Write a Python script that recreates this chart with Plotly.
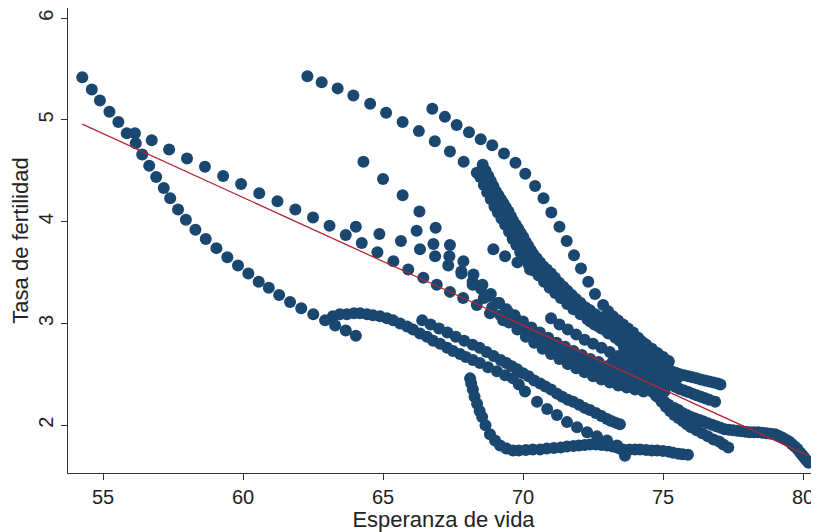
import plotly.graph_objects as go

# ---- trajectories (life expectancy, fertility) ----
t1_x = [54.26,54.60,54.89,55.23,55.55,55.85,56.17,56.40,56.65,56.90,57.17,57.40,57.68,57.96,58.30,58.67,59.05,59.44,59.82,60.19,60.56,60.92,61.29,61.68,62.08,62.51,62.93,63.29,63.67,64.03]
t1_y = [5.42,5.30,5.19,5.08,4.98,4.87,4.77,4.66,4.55,4.44,4.33,4.23,4.12,4.02,3.92,3.83,3.74,3.65,3.57,3.49,3.41,3.35,3.28,3.21,3.15,3.09,3.03,2.98,2.93,2.88]

t2_x = [56.14,56.74,57.36,58.00,58.64,59.29,59.93,60.58,61.23,61.87,62.50,63.09,63.67,64.24,64.80,65.37,65.90,66.44,66.92,67.39,67.86,68.35,68.82,69.29,69.79,70.25,70.71,71.21,71.68,72.14,72.64,73.21,73.71,73.9,74.1,74.3,74.45,74.6,74.75,74.9,75.05,75.2,75.4,75.55,75.7,75.85,76.0,76.15,76.3,76.45,76.6,76.75,76.9,77.05,77.2,77.35,77.5,77.65,77.8,77.95,78.1,78.25,78.4,78.55,78.7,78.85,79.0,79.12,79.25,79.37,79.5,79.6,79.7,79.8,79.9,79.98,80.05,80.12,80.2]
t2_y = [4.87,4.80,4.71,4.62,4.54,4.45,4.37,4.28,4.20,4.12,4.04,3.96,3.87,3.79,3.70,3.61,3.53,3.45,3.38,3.31,3.25,3.18,3.10,3.03,2.98,2.91,2.85,2.78,2.71,2.66,2.61,2.55,2.51,2.48,2.44,2.40,2.36,2.33,2.29,2.26,2.23,2.20,2.17,2.15,2.12,2.10,2.08,2.065,2.05,2.035,2.02,2.005,1.99,1.975,1.96,1.955,1.95,1.945,1.94,1.935,1.93,1.93,1.93,1.925,1.92,1.915,1.91,1.895,1.88,1.86,1.84,1.815,1.79,1.765,1.73,1.705,1.68,1.655,1.63]

t3_x = [62.30,62.81,63.38,63.94,64.54,65.11,65.70,66.28,66.85,67.39,67.88,68.35,68.47,68.6,68.72,68.85,68.98,69.1,69.23,69.36,69.5,69.63,69.76,69.9,70.04,70.2,70.38,70.56,70.75,70.95,71.15,71.35,71.58,71.8,72.05,72.3,72.55,72.8,73.05,73.3,73.55,73.8,74.05,74.3,74.55,74.8,75.05,75.3,75.45,75.6,75.75,75.9,76.05,76.2,76.35,76.5,76.65,76.8,76.95,77.05]
t3_y = [5.43,5.37,5.31,5.24,5.16,5.07,4.98,4.89,4.79,4.69,4.59,4.48,4.44,4.36,4.29,4.22,4.15,4.09,4.03,3.97,3.90,3.83,3.77,3.70,3.64,3.58,3.52,3.47,3.41,3.35,3.30,3.25,3.19,3.14,3.09,3.04,2.99,2.95,2.90,2.86,2.82,2.77,2.72,2.68,2.63,2.59,2.56,2.53,2.515,2.50,2.49,2.48,2.47,2.46,2.45,2.44,2.43,2.42,2.41,2.40]

t4_x = [66.76,67.21,67.63,68.07,68.49,68.90,69.32,69.73,70.08,70.43,70.73,71.01,71.30,71.56,71.82,72.07,72.33,72.57,72.86,73.04,73.21,73.39,73.57,73.75,73.93,74.11,74.29,74.46,74.6,74.72,74.85,75.0,75.15,75.3,75.45,75.6,75.75,75.9,76.05,76.2,76.35,76.5,76.65,76.86]
t4_y = [5.11,5.03,4.95,4.88,4.81,4.75,4.67,4.58,4.47,4.35,4.23,4.09,3.95,3.81,3.67,3.54,3.41,3.29,3.18,3.12,3.07,3.03,2.99,2.95,2.91,2.86,2.81,2.75,2.69,2.62,2.55,2.48,2.43,2.40,2.375,2.355,2.34,2.325,2.31,2.295,2.28,2.265,2.25,2.23]

t5_x = [68.56,68.66,68.76,68.85,68.94,69.03,69.12,69.21,69.30,69.39,69.48,69.57,69.65,69.74,69.83,69.92,70.01,70.10,70.19,70.28,70.37,70.49,70.61,70.73,70.85,71.0,71.14,71.29,71.44,71.59,71.74,71.89,72.04,72.22,72.39,72.57,72.75,72.93,73.11,73.28,73.46,73.64,73.82,74.0,74.18,74.36,74.54,74.72,74.89,75.05,75.2]
t5_y = [4.56,4.50,4.45,4.40,4.35,4.30,4.26,4.22,4.18,4.14,4.10,4.05,4.01,3.97,3.93,3.89,3.85,3.80,3.76,3.72,3.68,3.64,3.60,3.56,3.53,3.49,3.45,3.40,3.36,3.32,3.28,3.24,3.20,3.16,3.13,3.09,3.06,3.03,3.00,2.96,2.93,2.89,2.86,2.83,2.80,2.76,2.73,2.70,2.68,2.65,2.62]

t6_x = [68.94,69.36,69.8,70.25,70.55,70.85,71.15,71.45,71.75,72.05,72.3,72.55,72.8,73.05,73.25,73.45,73.6,73.75,73.9,74.05,74.2,74.35,74.5,74.65,74.8,74.95,75.1,75.25,75.4,75.55,75.7,75.85,76.0,76.2,76.4,76.6,76.8,77.0,77.15,77.33]
t6_y = [3.73,3.66,3.60,3.53,3.48,3.43,3.38,3.32,3.26,3.20,3.14,3.08,3.02,2.95,2.89,2.83,2.77,2.71,2.65,2.58,2.52,2.46,2.40,2.34,2.28,2.23,2.18,2.14,2.10,2.07,2.04,2.01,1.98,1.95,1.92,1.89,1.86,1.84,1.81,1.78]

t7_x = [64.3,65.0,65.7,66.3,66.88,67.39,67.87,68.23,68.55,68.85,69.15,69.45,69.75,70.05,70.3,70.55,70.8,71.05,71.3,71.55,71.8,72.05,72.3,72.55,72.8,73.05,73.3,73.55,73.8,74.05,74.3,74.55,74.8,75.05]
t7_y = [4.59,4.42,4.26,4.10,3.94,3.77,3.61,3.48,3.38,3.29,3.20,3.12,3.04,2.97,2.92,2.87,2.82,2.78,2.74,2.70,2.66,2.63,2.60,2.57,2.54,2.51,2.48,2.45,2.43,2.41,2.39,2.37,2.35,2.33]

t8_x = [64.03,64.87,65.64,66.32,66.86,67.33,67.8,68.2,68.5,68.8,69.1,69.4,69.7,70.0,70.3,70.6,70.9,71.2,71.5,71.8,72.1,72.4,72.7,73.0,73.3,73.6,73.9,74.2,74.5,74.8]
t8_y = [3.95,3.88,3.81,3.73,3.66,3.57,3.49,3.41,3.34,3.27,3.20,3.14,3.08,3.02,2.96,2.91,2.86,2.81,2.77,2.73,2.69,2.65,2.62,2.58,2.55,2.52,2.49,2.46,2.43,2.40]

t9_x = [66.2,66.8,67.37,67.8,68.2,68.6,68.9,69.2,69.5,69.8,70.1,70.4,70.7,71.0,71.3,71.6,71.9,72.2,72.5,72.8,73.1,73.4,73.7,74.0,74.3]
t9_y = [3.91,3.78,3.66,3.51,3.38,3.25,3.16,3.08,3.01,2.94,2.87,2.81,2.75,2.70,2.65,2.60,2.56,2.52,2.48,2.45,2.42,2.39,2.37,2.35,2.33]

# lower main band, continuing into the steep beaded tail
t10_x = [63.21,63.46,63.71,63.96,64.18,64.43,64.64,64.89,65.14,65.36,65.61,65.86,66.07,66.32,66.57,66.79,67.04,67.29,67.5,67.75,67.96,68.21,68.46,68.75,69.07,69.36,69.64,69.85,70.07,70.5,70.86,71.21,71.57,71.93,72.29,72.64,73.0,73.36,73.57,73.64]
t10_y = [3.07,3.09,3.09,3.10,3.10,3.09,3.08,3.07,3.05,3.03,3.00,2.97,2.94,2.90,2.87,2.83,2.80,2.76,2.73,2.70,2.67,2.64,2.61,2.57,2.53,2.49,2.46,2.40,2.33,2.23,2.16,2.10,2.03,1.98,1.93,1.89,1.85,1.80,1.75,1.70]

# band hugging the lower band, ending near (73.5, 2.0)
t11_x = [66.4,66.7,67.0,67.3,67.6,67.9,68.2,68.45,68.7,68.95,69.2,69.4,69.6,69.79,70.0,70.2,70.4,70.61,70.8,71.0,71.21,71.4,71.6,71.79,72.0,72.2,72.39,72.6,72.8,73.0,73.15,73.3,73.46]
t11_y = [3.03,2.99,2.95,2.91,2.87,2.83,2.79,2.76,2.72,2.68,2.64,2.61,2.58,2.55,2.51,2.48,2.44,2.41,2.38,2.35,2.31,2.28,2.25,2.23,2.20,2.17,2.15,2.12,2.09,2.06,2.04,2.025,2.01]

# bottom band
t12_x = [68.11,68.15,68.21,68.27,68.36,68.45,68.54,68.66,68.82,69.0,69.18,69.4,69.64,69.85,70.1,70.35,70.61,70.85,71.1,71.35,71.57,71.8,72.0,72.2,72.39,72.6,72.8,73.0,73.2,73.4,73.57,73.8,74.0,74.18,74.4,74.6,74.79,75.0,75.2,75.36,75.55,75.7,75.89]
t12_y = [2.46,2.41,2.35,2.28,2.21,2.14,2.08,2.00,1.91,1.85,1.80,1.77,1.75,1.75,1.755,1.76,1.76,1.77,1.775,1.78,1.79,1.795,1.80,1.805,1.81,1.81,1.805,1.80,1.79,1.775,1.76,1.76,1.76,1.76,1.755,1.75,1.75,1.745,1.74,1.73,1.72,1.715,1.71]

# extra dense chains inside the cluster near x = 73-75.5
t13_x = [71.0,71.3,71.6,71.9,72.2,72.5,72.8,73.1,73.4,73.7,73.9,74.1,74.3,74.5,74.7,74.9,75.1,75.3]
t13_y = [3.05,2.99,2.94,2.89,2.84,2.80,2.76,2.72,2.68,2.65,2.62,2.60,2.57,2.55,2.52,2.50,2.47,2.44]

t14_x = [72.4,72.7,73.0,73.3,73.6,73.85,74.1,74.3,74.5,74.7,74.9,75.1,75.3,75.5]
t14_y = [3.02,2.97,2.92,2.87,2.82,2.78,2.74,2.70,2.66,2.62,2.58,2.54,2.50,2.46]

t15_x = [73.2,73.4,73.6,73.8,74.0,74.2,74.4,74.6,74.8,75.0,75.2,75.4]
t15_y = [2.62,2.60,2.58,2.56,2.54,2.52,2.50,2.47,2.45,2.43,2.41,2.39]

t16_x = [73.6,73.8,74.0,74.2,74.4,74.6,74.8,75.0,75.2]
t16_y = [2.95,2.91,2.87,2.83,2.79,2.75,2.71,2.67,2.63]

trajectories = [(t1_x, t1_y), (t2_x, t2_y), (t3_x, t3_y), (t4_x, t4_y), (t5_x, t5_y),
                (t6_x, t6_y), (t7_x, t7_y), (t8_x, t8_y), (t9_x, t9_y), (t10_x, t10_y),
                (t11_x, t11_y), (t12_x, t12_y), (t13_x, t13_y), (t14_x, t14_y),
                (t15_x, t15_y), (t16_x, t16_y)]

# linear fit (slope, intercept)
fit_slope = -0.1257
fit_intercept = 11.78

x_ticks = [55, 60, 65, 70, 75, 80]
y_ticks = [2, 3, 4, 5, 6]

NAVY = "#1a476f"
FIT = "#b3262f"
FONT = "Liberation Sans, Arial, sans-serif"

fig = go.Figure()
for tx, ty in trajectories:
    fig.add_trace(go.Scatter(x=tx, y=ty, mode="markers",
                             marker=dict(size=12, color=NAVY, line=dict(width=0)),
                             showlegend=False, hoverinfo="skip"))

all_x = [v for tx, _ in trajectories for v in tx]
x0, x1 = min(all_x), max(all_x)
fig.add_trace(go.Scatter(x=[x0, x1], y=[fit_intercept + fit_slope * x0, fit_intercept + fit_slope * x1],
                         mode="lines", line=dict(color=FIT, width=1.3),
                         showlegend=False, hoverinfo="skip"))

# the page body adds an 8px offset, so the figure is 8px smaller than the window
fig.update_layout(
    width=811, height=524,
    margin=dict(l=60, r=0, t=0, b=59),
    paper_bgcolor="white", plot_bgcolor="white",
    font=dict(family=FONT, size=20, color="#222222"),
)
fig.update_xaxes(range=[53.75, 80.57], tickvals=x_ticks, ticktext=[str(v) for v in x_ticks],
                 automargin=False,
                 showgrid=False, zeroline=False, showline=True, linecolor="#333333", linewidth=1.2,
                 ticks="outside", ticklen=6, tickcolor="#333333",
                 title=dict(text="Esperanza de vida", font=dict(size=22), standoff=0))
fig.update_yaxes(range=[1.53, 6.10], tickvals=y_ticks, ticktext=[str(v) for v in y_ticks],
                 tickangle=-90, automargin=False,
                 showgrid=False, zeroline=False, showline=True, linecolor="#333333", linewidth=1.2,
                 ticks="outside", ticklen=6, tickcolor="#333333",
                 title=dict(text="Tasa de fertilidad", font=dict(size=22), standoff=4))

fig.write_html("out.html")
